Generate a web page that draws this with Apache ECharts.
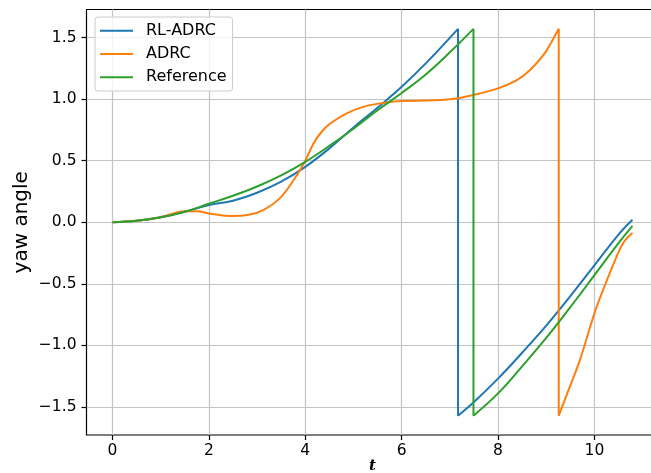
<!DOCTYPE html>
<html>
<head>
<meta charset="utf-8">
<script src="https://cdn.jsdelivr.net/npm/echarts@6/dist/echarts.min.js"></script>
<style>
html,body{margin:0;padding:0;background:#fff;}
#chart{width:651px;height:473px;}
</style>
</head>
<body>
<div id="chart"></div>
<script>
// ---- data ----
var seriesNames = ['RL-ADRC', 'ADRC', 'Reference'];

var rlT = [0, 0.5, 1.0, 1.5, 2.0, 2.5, 3.0, 3.5, 4.0, 4.5, 5.0, 5.5, 6.0, 6.5, 7.17, 7.17, 7.5, 8.0, 8.5, 9.0, 9.5, 10.0, 10.5, 10.79];
var rlY = [0, 0.012, 0.04, 0.085, 0.14, 0.175, 0.24, 0.33, 0.45, 0.60, 0.77, 0.93, 1.10, 1.29, 1.571, -1.571, -1.46, -1.27, -1.06, -0.84, -0.60, -0.35, -0.10, 0.02];

var adrcT = [0, 0.5, 1.0, 1.5, 1.75, 2.0, 2.5, 2.8, 3.13, 3.47, 3.76, 4.0, 4.17, 4.34, 4.51, 4.86, 5.2, 5.55, 6.0, 6.66, 7.14, 7.62, 8.0, 8.39, 8.66, 8.94, 9.11, 9.26, 9.26, 9.49, 9.70, 10.0, 10.18, 10.43, 10.61, 10.79];
var adrcY = [0, 0.012, 0.04, 0.09, 0.09, 0.072, 0.05, 0.058, 0.099, 0.194, 0.343, 0.50, 0.64, 0.735, 0.80, 0.884, 0.937, 0.965, 0.984, 0.99, 1.006, 1.046, 1.087, 1.154, 1.235, 1.357, 1.465, 1.571, -1.571, -1.335, -1.118, -0.74, -0.55, -0.307, -0.16, -0.087];

var refT = [0, 0.5, 1.0, 1.5, 2.0, 2.5, 3.0, 3.5, 4.0, 4.5, 5.0, 5.5, 6.0, 6.5, 7.0, 7.49, 7.49, 8.0, 8.5, 9.0, 9.5, 10.0, 10.5, 10.79];
var refY = [0, 0.012, 0.04, 0.085, 0.15, 0.215, 0.29, 0.38, 0.49, 0.62, 0.76, 0.91, 1.05, 1.20, 1.38, 1.571, -1.571, -1.39, -1.17, -0.94, -0.69, -0.43, -0.17, -0.03];

var xTicks = [0, 2, 4, 6, 8, 10];
var yTicks = [-1.5, -1.0, -0.5, 0.0, 0.5, 1.0, 1.5];
var xLabel = 't';
var yLabel = 'yaw angle';

var colors = ['#1f77b4', '#ff7f0e', '#2ca02c'];
var allT = [rlT, adrcT, refT];
var allY = [rlY, adrcY, refY];

// split a curve at its wrap (the repeated t value) into smooth pieces + vertical drop
function pieces(t, y) {
  var k = -1;
  for (var i = 1; i < t.length; i++) { if (t[i] === t[i - 1]) { k = i; break; } }
  var curve = [];
  for (var j = 0; j < t.length; j++) {
    if (j === k) curve.push(null);
    curve.push([t[j], y[j]]);
  }
  return {curve: curve, drop: [[t[k - 1], y[k - 1]], [t[k], y[k]]]};
}

var series = [];
seriesNames.forEach(function (n, i) {
  var p = pieces(allT[i], allY[i]);
  series.push({
    name: n, type: 'line', data: p.curve, showSymbol: false, symbol: 'none',
    smooth: 0.4, connectNulls: false,
    color: colors[i], lineStyle: {color: colors[i], width: 2}, z: 2 + i
  });
  series.push({
    name: n, type: 'line', data: p.drop, showSymbol: false, symbol: 'none',
    color: colors[i], lineStyle: {color: colors[i], width: 2}, z: 2 + i
  });
});

var chart = echarts.init(document.getElementById('chart'), null, {renderer: 'canvas'});
var tickFont = {fontFamily: 'DejaVu Sans', fontSize: 15.5, color: '#000'};

chart.setOption({
  animation: false,
  backgroundColor: '#fff',
  grid: {
    left: 86.5, top: 9.5, width: 572, height: 425.5,
    outerBoundsMode: 'none', containLabel: false,
    show: true, borderColor: '#000', borderWidth: 1.2, backgroundColor: 'transparent'
  },
  legend: {
    orient: 'vertical',
    left: 95, top: 17,
    data: seriesNames,
    icon: 'path://M0,0H33V2H0Z M41,0L41,2',
    itemWidth: 41, itemHeight: 2,
    itemGap: 7.3,
    padding: [5.7, 6, 5.7, 5],
    borderColor: '#cccccc', borderWidth: 1, borderRadius: 3,
    backgroundColor: 'rgba(255,255,255,0.8)',
    textStyle: {fontFamily: 'DejaVu Sans', fontSize: 16, color: '#000', lineHeight: 16}
  },
  xAxis: {
    type: 'value',
    min: -0.54, max: 11.33,
    name: xLabel,
    nameLocation: 'middle',
    nameGap: 24,
    nameMoveOverlap: false,
    nameTextStyle: {fontFamily: 'DejaVu Serif', fontStyle: 'italic', fontWeight: 'bold', fontSize: 15, color: '#000'},
    axisLine: {show: false, onZero: false},
    axisTick: {show: true, inside: false, length: 5, customValues: xTicks, lineStyle: {color: '#000', width: 1.2}},
    axisLabel: Object.assign({customValues: xTicks, margin: 8, formatter: function (v) { return String(v); }}, tickFont),
    splitLine: {show: true, lineStyle: {color: '#c4c4c4', width: 1.2}}
  },
  yAxis: {
    type: 'value',
    min: -1.728, max: 1.728,
    name: yLabel,
    nameLocation: 'middle',
    nameRotate: 90,
    nameGap: 55,
    nameMoveOverlap: false,
    nameTextStyle: {fontFamily: 'DejaVu Sans', fontSize: 20, color: '#000'},
    axisLine: {show: false, onZero: false},
    axisTick: {show: true, inside: false, length: 5, customValues: yTicks, lineStyle: {color: '#000', width: 1.2}},
    axisLabel: Object.assign({customValues: yTicks, margin: 10, formatter: function (v) {
      var s = Math.abs(v).toFixed(1);
      return (v < -1e-9 ? '\u2212' : '') + s;
    }}, tickFont),
    splitLine: {show: true, lineStyle: {color: '#c4c4c4', width: 1.2}}
  },
  series: series
});
</script>
</body>
</html>
